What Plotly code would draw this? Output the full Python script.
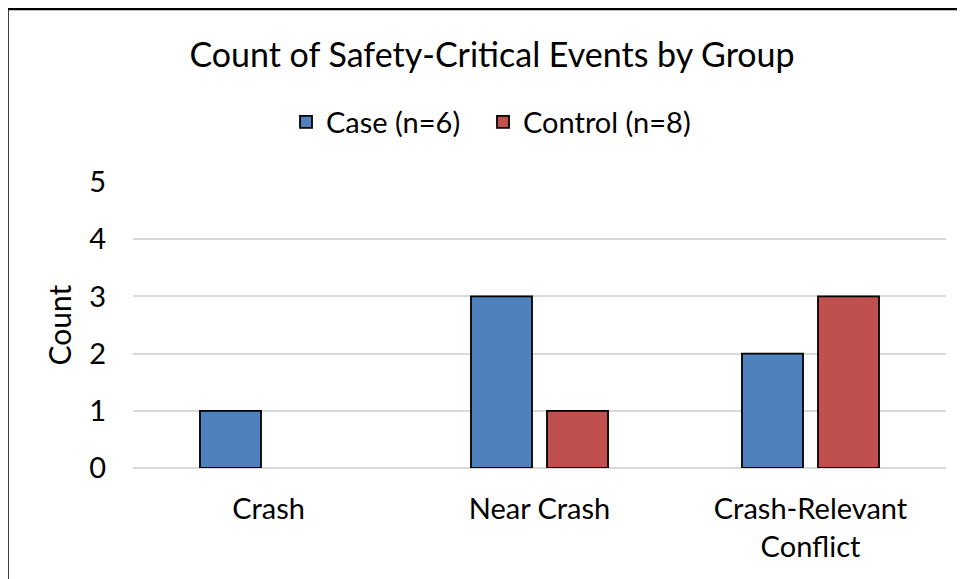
import plotly.graph_objects as go

categories = ["Crash", "Near Crash", "Crash-Relevant<br>Conflict"]
case_counts = [1, 3, 2]
control_counts = [0, 1, 3]
series_names = ["Case (n=6)", "Control (n=8)"]
y_ticks = [0, 1, 2, 3, 4, 5]

FONT = "Lato"
OFF = 8  # default page margin of the html body
W, H = 965 - OFF, 579 - OFF
L, R, T, B = 133 - OFF, 19, 182 - OFF, 111
pw = W - L - R
ph = H - T - B


def px_x(x):
    return (x - OFF - L) / pw


def px_y(y):
    return (H - B - (y - OFF)) / ph


def visible(vals):
    # a zero count draws no bar (no outline sliver on the baseline)
    return [v if v > 0 else None for v in vals]


fig = go.Figure()
fig.add_trace(go.Bar(
    x=categories, y=visible(case_counts), name=series_names[0], legend="legend",
    marker=dict(color="#4F81BD", line=dict(color="black", width=1.8)),
))
fig.add_trace(go.Bar(
    x=categories, y=visible(control_counts), name=series_names[1], legend="legend2",
    marker=dict(color="#C0504D", line=dict(color="black", width=1.8)),
))

legend_style = dict(orientation="h", xanchor="left", yanchor="middle",
                    y=px_y(122), bgcolor="rgba(0,0,0,0)",
                    font=dict(size=29, family=FONT, color="black"),
                    itemclick=False, itemdoubleclick=False)

fig.update_layout(
    width=W, height=H,
    margin=dict(l=L, r=R, t=T, b=B),
    paper_bgcolor="white", plot_bgcolor="white",
    barmode="group", bargap=0.439, bargroupgap=0.197,
    font=dict(family=FONT, color="black", size=29),
    title=dict(text="Count of Safety-Critical Events by Group",
               x=(492 - OFF) / W, xanchor="center", xref="container",
               y=1 - (55 - OFF) / H, yanchor="middle", yref="container",
               font=dict(size=34, family=FONT, color="black")),
    legend=dict(x=px_x(286), **legend_style),
    legend2=dict(x=px_x(483), **legend_style),
    showlegend=True,
    xaxis=dict(showgrid=False, showline=False, ticks="", ticklabelstandoff=21,
               tickfont=dict(size=29, family=FONT, color="black")),
    yaxis=dict(range=[0, 5], tickvals=y_ticks, showgrid=True,
               gridcolor="#D9D9D9", gridwidth=1.5,
               zeroline=True, zerolinecolor="#D9D9D9", zerolinewidth=1.5,
               showline=False, ticks="", ticklabelstandoff=26,
               title=dict(text="Count", standoff=8,
                          font=dict(size=30, family=FONT, color="black")),
               tickfont=dict(size=29, family=FONT, color="black")),
)

fig.add_shape(type="path", xref="paper", yref="paper",
              path=f"M {px_x(7.5)} {px_y(600)} L {px_x(7.5)} {px_y(9)} L {px_x(990)} {px_y(9)}",
              line=dict(color="black", width=2.5))

fig.write_html("out.html")
